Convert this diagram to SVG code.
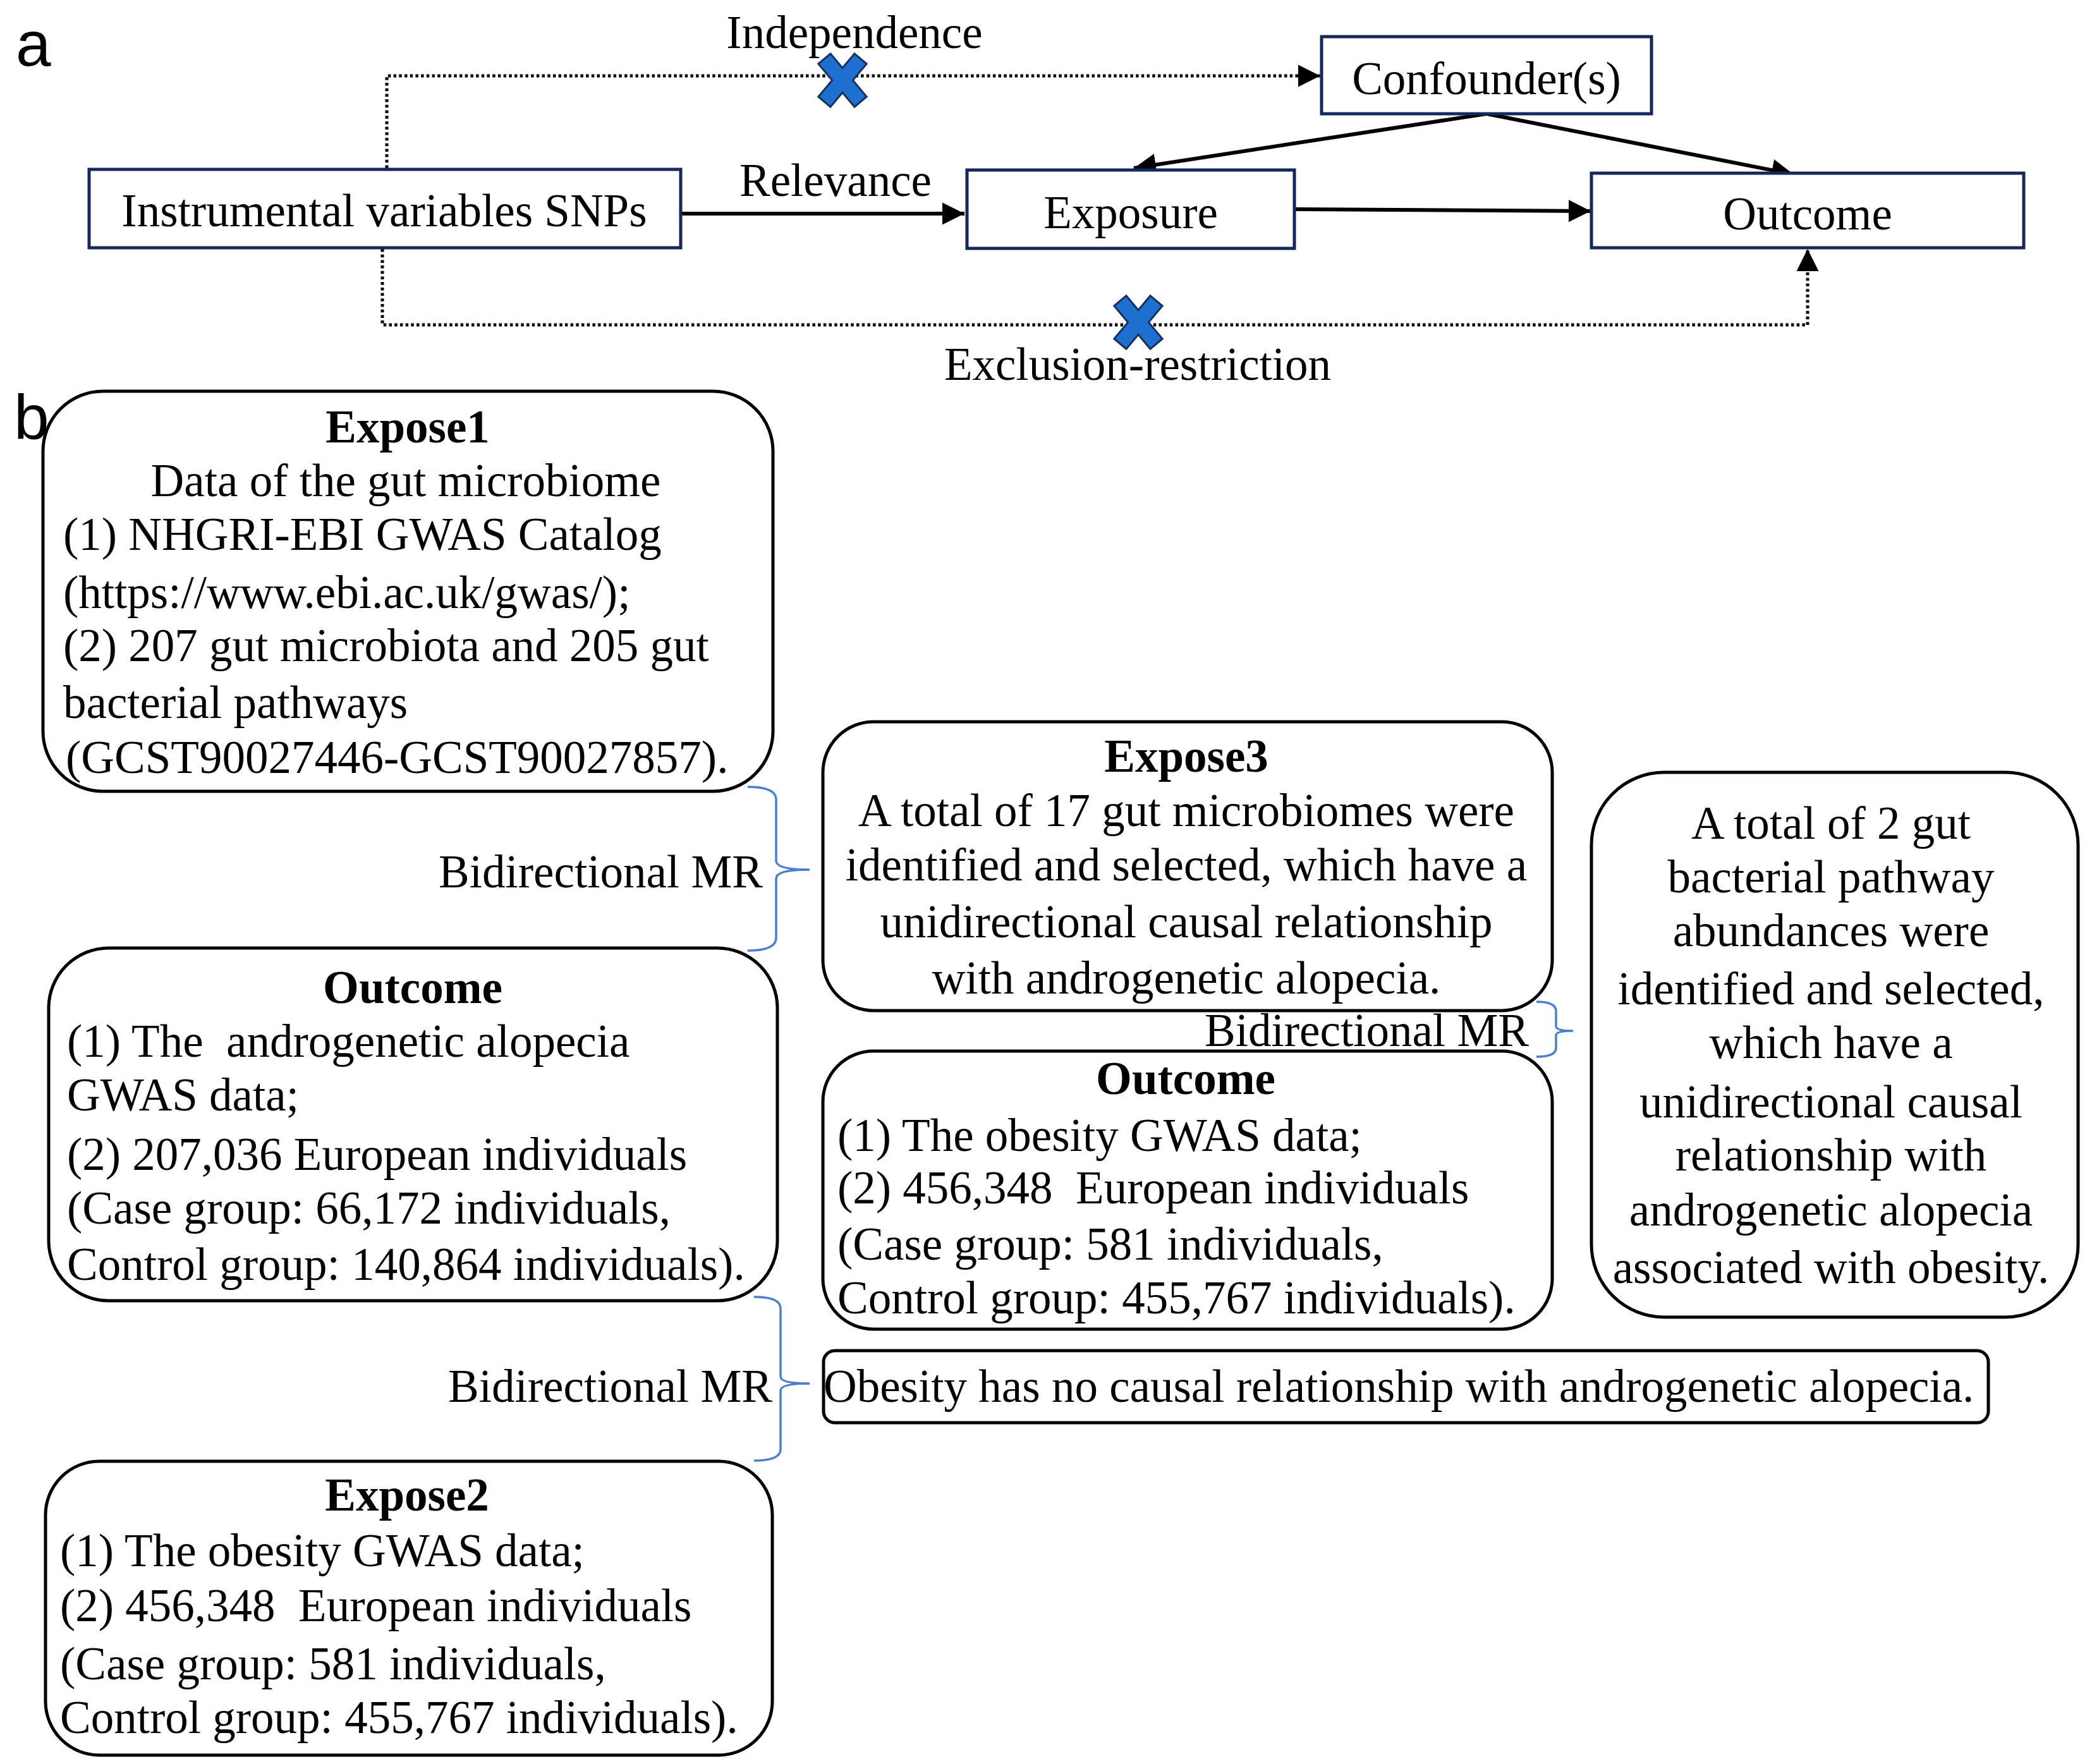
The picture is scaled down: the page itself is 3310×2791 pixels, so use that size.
<svg xmlns="http://www.w3.org/2000/svg" xmlns:xlink="http://www.w3.org/1999/xlink" width="3310" height="2791" viewBox="0 0 3310 2791">
<style>
text{font-family:"Liberation Serif","Times New Roman",serif;font-size:73px;fill:#000}
.lbl{font-family:"Liberation Sans",Arial,sans-serif;font-size:100px}
.b{font-weight:bold}
.m{text-anchor:middle}
.e{text-anchor:end}
.pre{white-space:pre}
.sq{fill:#fff;stroke:#14295a;stroke-width:5}
.rd{fill:#fff;stroke:#000;stroke-width:5}
.solid{fill:none;stroke:#000;stroke-width:6}
.dot{fill:none;stroke:#000;stroke-width:5;stroke-dasharray:4.5 4.2}
.brace{fill:none;stroke:#4a7fd0;stroke-width:3.5}
.xbar{fill:#1f6fcf}
.xout{fill:#16305e;stroke:#16305e;stroke-width:6;stroke-linejoin:miter}
</style>
<defs>
<marker id="ah" markerUnits="userSpaceOnUse" markerWidth="36" markerHeight="36" refX="35" refY="17.5" orient="auto">
<path d="M0,0 L35,17.5 L0,35 z" fill="#000"/>
</marker>
<rect id="bar" x="-43" y="-11" width="86" height="22"/>
<g id="cross">
<use xlink:href="#bar" class="xout" transform="rotate(50)"/>
<use xlink:href="#bar" class="xout" transform="rotate(-50)"/>
<use xlink:href="#bar" class="xbar" transform="rotate(50)"/>
<use xlink:href="#bar" class="xbar" transform="rotate(-50)"/>
</g>
</defs>
<rect width="3310" height="2791" fill="#fff"/>

<text class="lbl" x="25" y="104">a</text>
<text class="lbl" x="22" y="695">b</text>

<g id="connectors">
<path class="dot" d="M612,266 V120 H2089" marker-end="url(#ah)"/>
<path class="dot" d="M605,394 V514 H2860 V394" marker-end="url(#ah)"/>
<path class="solid" d="M1077,338 H1526" marker-end="url(#ah)"/>
<path class="solid" d="M2048,331 L2517,334" marker-end="url(#ah)"/>
<path class="solid" d="M2352,180 L1794,266" marker-end="url(#ah)"/>
<path class="solid" d="M2352,180 L2838,276" marker-end="url(#ah)"/>
<use xlink:href="#cross" transform="translate(1333,127)"/>
<use xlink:href="#cross" transform="translate(1801,510)"/>
<path class="brace" d="M1183,1245 Q1228,1245 1228,1265 L1228,1362 Q1228,1376 1281,1376 Q1228,1376 1228,1390 L1228,1484 Q1228,1504 1183,1504"/>
<path class="brace" d="M2431,1585 Q2462,1585 2462,1600 L2462,1624 Q2462,1631 2489,1631 Q2462,1631 2462,1638 L2462,1658 Q2462,1672 2431,1672"/>
<path class="brace" d="M1193,2052 Q1235,2052 1235,2070 L1235,2178 Q1235,2189 1281,2189 Q1235,2189 1235,2200 L1235,2293 Q1235,2311 1193,2311"/>
</g>

<text class="m" x="1352" y="76">Independence</text>
<text class="m" x="1322" y="310">Relevance</text>
<text class="m" x="1800" y="601">Exclusion-restriction</text>

<g id="iv"><rect class="sq" x="141" y="268" width="936" height="124"/><text class="m" x="608" y="358">Instrumental variables SNPs</text></g>
<g id="exposure"><rect class="sq" x="1530" y="269" width="518" height="124"/><text class="m" x="1789" y="361">Exposure</text></g>
<g id="outcome-a"><rect class="sq" x="2518" y="274" width="684" height="118"/><text class="m" x="2860" y="363">Outcome</text></g>
<g id="confounder"><rect class="sq" x="2091" y="58" width="522" height="122"/><text class="m" x="2352" y="149">Confounder(s)</text></g>

<g id="expose1">
<rect class="rd" x="68" y="619" width="1155" height="633" rx="95" ry="95"/>
<text class="m b" x="645" y="700">Expose1</text>
<text class="m" x="642" y="785">Data of the gut microbiome</text>
<text x="100" y="870">(1) NHGRI-EBI GWAS Catalog</text>
<text x="100" y="962">(https://www.ebi.ac.uk/gwas/);</text>
<text x="100" y="1046">(2) 207 gut microbiota and 205 gut</text>
<text x="100" y="1136">bacterial pathways</text>
<text x="104" y="1223">(GCST90027446-GCST90027857).</text>
</g>
<text class="e" x="1207" y="1404">Bidirectional MR</text>

<g id="outcome-left">
<rect class="rd" x="77" y="1500" width="1153" height="558" rx="95" ry="95"/>
<text class="m b" x="653" y="1587">Outcome</text>
<text class="pre" x="106" y="1672">(1) The  androgenetic alopecia</text>
<text x="106" y="1757">GWAS data;</text>
<text x="106" y="1851">(2) 207,036 European individuals</text>
<text x="106" y="1936">(Case group: 66,172 individuals,</text>
<text x="106" y="2025">Control group: 140,864 individuals).</text>
</g>

<g id="expose3">
<rect class="rd" x="1302" y="1142" width="1154" height="457" rx="80" ry="80"/>
<text class="m b" x="1877" y="1221">Expose3</text>
<text class="m" x="1877" y="1307">A total of 17 gut microbiomes were</text>
<text class="m" x="1877" y="1393">identified and selected, which have a</text>
<text class="m" x="1877" y="1483">unidirectional causal relationship</text>
<text class="m" x="1877" y="1572">with androgenetic alopecia.</text>
</g>

<g id="outcome-mid">
<rect class="rd" x="1302" y="1663" width="1154" height="440" rx="80" ry="80"/>
<text class="m b" x="1876" y="1731">Outcome</text>
<text x="1325" y="1821">(1) The obesity GWAS data;</text>
<text class="pre" x="1325" y="1904">(2) 456,348  European individuals</text>
<text x="1325" y="1993">(Case group: 581 individuals,</text>
<text x="1325" y="2078">Control group: 455,767 individuals).</text>
</g>
<text class="e" x="2419" y="1655">Bidirectional MR</text>

<g id="result-right">
<rect class="rd" x="2518" y="1222" width="770" height="862" rx="115" ry="115"/>
<text class="m" x="2897" y="1327">A total of 2 gut</text>
<text class="m" x="2897" y="1412">bacterial pathway</text>
<text class="m" x="2897" y="1497">abundances were</text>
<text class="m" x="2897" y="1589">identified and selected,</text>
<text class="m" x="2897" y="1674">which have a</text>
<text class="m" x="2897" y="1768">unidirectional causal</text>
<text class="m" x="2897" y="1852">relationship with</text>
<text class="m" x="2897" y="1939">androgenetic alopecia</text>
<text class="m" x="2897" y="2030">associated with obesity.</text>
</g>

<text class="e" x="1222" y="2218">Bidirectional MR</text>

<g id="no-causal">
<rect class="rd" x="1303" y="2137" width="1843" height="114" rx="18" ry="18"/>
<text x="1303" y="2218">Obesity has no causal relationship with androgenetic alopecia.</text>
</g>

<g id="expose2">
<rect class="rd" x="72" y="2312" width="1150" height="465" rx="85" ry="85"/>
<text class="m b" x="644" y="2390">Expose2</text>
<text x="95" y="2478">(1) The obesity GWAS data;</text>
<text class="pre" x="95" y="2565">(2) 456,348  European individuals</text>
<text x="95" y="2657">(Case group: 581 individuals,</text>
<text x="95" y="2742">Control group: 455,767 individuals).</text>
</g>
</svg>
